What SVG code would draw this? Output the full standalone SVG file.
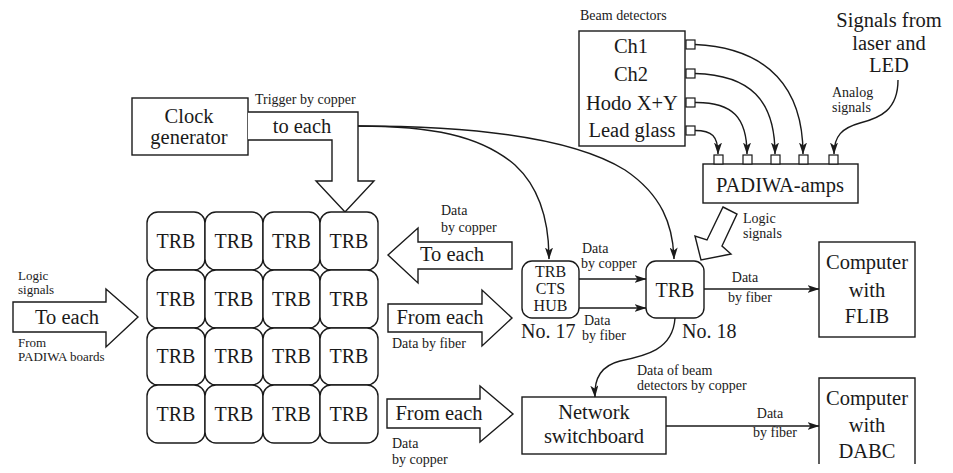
<svg xmlns="http://www.w3.org/2000/svg" width="953" height="473" viewBox="0 0 953 473">
<style>
text{font-family:Liberation Serif,Tinos,Noto Serif,DejaVu Serif,Times New Roman,Times,serif;fill:#1a1a1a}
.b{font-size:20.5px}
.t{font-size:20px}
.s{font-size:14px}
.x{font-size:13px}
.m{font-size:16px}
.c{text-anchor:middle}
.box{fill:#fff;stroke:#1a1a1a;stroke-width:1.4}
.fat{fill:#fff;stroke:#1a1a1a;stroke-width:1.4;stroke-linejoin:miter}
.ln{fill:none;stroke:#1a1a1a;stroke-width:1.4}
.sq{fill:#fff;stroke:#1a1a1a;stroke-width:1.2}
</style>
<defs>
<marker id="ah" viewBox="0 0 12 8" refX="11.5" refY="4" markerWidth="12" markerHeight="8" orient="auto" markerUnits="userSpaceOnUse">
<path d="M0,0 L12,4 L0,8 L3,4 z" fill="#1a1a1a"/>
</marker>
</defs>

<g id="clock">
<rect class="box" x="132" y="98" width="116" height="57"/>
<text class="b c" x="189" y="123">Clock</text>
<text class="b c" x="189" y="144">generator</text>
</g>

<g id="clock-arrow">
<path class="fat" d="M248,112 L358,112 L358,181 L374,181 L345,212 L316,181 L332,181 L332,140 L248,140"/>
<text class="s" x="255" y="104">Trigger by copper</text>
<text class="b c" x="302" y="133">to each</text>
</g>

<g id="trb-grid">
<rect class="box" x="147" y="212" width="58" height="58" rx="11"/>
<rect class="box" x="205" y="212" width="58" height="58" rx="11"/>
<rect class="box" x="263" y="212" width="57" height="58" rx="11"/>
<rect class="box" x="320" y="212" width="58" height="58" rx="11"/>
<rect class="box" x="147" y="270" width="58" height="58" rx="11"/>
<rect class="box" x="205" y="270" width="58" height="58" rx="11"/>
<rect class="box" x="263" y="270" width="57" height="58" rx="11"/>
<rect class="box" x="320" y="270" width="58" height="58" rx="11"/>
<rect class="box" x="147" y="328" width="58" height="57" rx="11"/>
<rect class="box" x="205" y="328" width="58" height="57" rx="11"/>
<rect class="box" x="263" y="328" width="57" height="57" rx="11"/>
<rect class="box" x="320" y="328" width="58" height="57" rx="11"/>
<rect class="box" x="147" y="385" width="58" height="58" rx="11"/>
<rect class="box" x="205" y="385" width="58" height="58" rx="11"/>
<rect class="box" x="263" y="385" width="57" height="58" rx="11"/>
<rect class="box" x="320" y="385" width="58" height="58" rx="11"/>
<text class="t c" x="176" y="248">TRB</text><text class="t c" x="234" y="248">TRB</text><text class="t c" x="291.5" y="248">TRB</text><text class="t c" x="349" y="248">TRB</text>
<text class="t c" x="176" y="306">TRB</text><text class="t c" x="234" y="306">TRB</text><text class="t c" x="291.5" y="306">TRB</text><text class="t c" x="349" y="306">TRB</text>
<text class="t c" x="176" y="363">TRB</text><text class="t c" x="234" y="363">TRB</text><text class="t c" x="291.5" y="363">TRB</text><text class="t c" x="349" y="363">TRB</text>
<text class="t c" x="176" y="421">TRB</text><text class="t c" x="234" y="421">TRB</text><text class="t c" x="291.5" y="421">TRB</text><text class="t c" x="349" y="421">TRB</text>
</g>

<g id="left-arrow">
<polygon class="fat" points="13,302 106,302 106,289 138,317 106,347 106,332 13,332"/>
<text class="b c" x="67" y="324">To each</text>
<text class="x" x="18" y="280">Logic</text>
<text class="x" x="18" y="294">signals</text>
<text class="x" x="18" y="347">From</text>
<text class="x" x="18" y="361">PADIWA boards</text>
</g>

<g id="to-each-arrow">
<polygon class="fat" points="512,242 418,242 418,228 388,255 418,283 418,269 512,269"/>
<text class="b c" x="452" y="261">To each</text>
<text class="s" x="441" y="215">Data</text>
<text class="s" x="441" y="232">by copper</text>
</g>

<g id="from-each-fiber">
<polygon class="fat" points="388,304 482,304 482,290 512,318 482,346 482,332 388,332"/>
<text class="b c" x="440" y="324">From each</text>
<text class="s" x="392" y="348">Data by fiber</text>
</g>

<g id="from-each-copper">
<polygon class="fat" points="387,399 480,399 480,386 513,414 480,442 480,428 387,428"/>
<text class="b c" x="439" y="420">From each</text>
<text class="s" x="392" y="448">Data</text>
<text class="s" x="392" y="464">by copper</text>
</g>

<g id="cts-hub">
<rect class="box" x="522" y="261" width="57" height="57" rx="10"/>
<text class="m c" x="550.5" y="277">TRB</text>
<text class="m c" x="550.5" y="294">CTS</text>
<text class="m c" x="550.5" y="311">HUB</text>
<text class="t" x="521" y="338">No. 17</text>
</g>

<g id="trb18">
<rect class="box" x="646" y="261" width="58" height="57" rx="10"/>
<text class="t c" x="675" y="297">TRB</text>
<text class="t" x="682" y="338">No. 18</text>
</g>

<g id="beam-detectors">
<text class="s" x="580" y="20">Beam detectors</text>
<rect class="box" x="579" y="31" width="106" height="115"/>
<text class="b c" x="631" y="53">Ch1</text>
<text class="b c" x="631" y="81">Ch2</text>
<text class="b c" x="632" y="110">Hodo X+Y</text>
<text class="b c" x="632" y="137">Lead glass</text>
<rect class="sq" x="686" y="40" width="9" height="9"/>
<rect class="sq" x="686" y="69" width="9" height="9"/>
<rect class="sq" x="686" y="98" width="9" height="9"/>
<rect class="sq" x="686" y="126" width="9" height="9"/>
</g>

<g id="padiwa-amps">
<rect class="box" x="703" y="164" width="155" height="39"/>
<text class="b c" x="780" y="192">PADIWA-amps</text>
<rect class="sq" x="714" y="155" width="9" height="9"/>
<rect class="sq" x="743" y="155" width="9" height="9"/>
<rect class="sq" x="771" y="155" width="9" height="9"/>
<rect class="sq" x="799" y="155" width="9" height="9"/>
<rect class="sq" x="829" y="155" width="9" height="9"/>
</g>

<g id="signals-source">
<text class="b c" x="889" y="27">Signals from</text>
<text class="b c" x="889" y="50">laser and</text>
<text class="b c" x="889" y="72">LED</text>
<text class="s" x="832" y="97">Analog</text>
<text class="s" x="832" y="112">signals</text>
</g>

<g id="logic-arrow">
<polygon class="fat" points="723,207 737,214 722,246 731,254 701,260 695,236 707,240"/>
<text class="s" x="743" y="223">Logic</text>
<text class="s" x="743" y="238">signals</text>
</g>

<g id="computer-flib">
<rect class="box" x="819" y="242" width="96" height="95"/>
<text class="b c" x="867" y="269">Computer</text>
<text class="b c" x="867" y="297">with</text>
<text class="b c" x="867" y="323">FLIB</text>
</g>

<g id="network-switchboard">
<rect class="box" x="522" y="397" width="144" height="57"/>
<text class="b c" x="594" y="419">Network</text>
<text class="b c" x="594" y="443">switchboard</text>
</g>

<g id="computer-dabc">
<path class="ln" d="M819,464 L819,378 L915,378 L915,464"/>
<text class="b c" x="867" y="405">Computer</text>
<text class="b c" x="867" y="432">with</text>
<text class="b c" x="867" y="458">DABC</text>
</g>

<g id="connectors">
<path class="ln" marker-end="url(#ah)" d="M358,126 C430,126 480,135 515,165 C540,188 549,220 549,259"/>
<path class="ln" marker-end="url(#ah)" d="M358,126 C450,126 565,133 625,170 C662,195 673,225 674,259"/>
<path class="ln" marker-end="url(#ah)" d="M579,279 L646,279"/>
<path class="ln" marker-end="url(#ah)" d="M579,308 L646,308"/>
<text class="s" x="582" y="253">Data</text>
<text class="s" x="581" y="268">by copper</text>
<text class="s" x="584" y="325">Data</text>
<text class="s" x="582" y="340">by fiber</text>
<path class="ln" marker-end="url(#ah)" d="M704,289 L819,289"/>
<text class="s c" x="745" y="282">Data</text>
<text class="s c" x="750" y="302">by fiber</text>
<path class="ln" marker-end="url(#ah)" d="M675,318 C673,350 645,356 620,361 C600,366 594,380 595,397"/>
<text class="s" x="637" y="375">Data of beam</text>
<text class="s" x="637" y="390">detectors by copper</text>
<path class="ln" marker-end="url(#ah)" d="M666,426 L819,426"/>
<text class="s c" x="770" y="418">Data</text>
<text class="s c" x="775" y="437">by fiber</text>
<path class="ln" marker-end="url(#ah)" d="M695,130.5 C712,130.5 718,136 718,154"/>
<path class="ln" marker-end="url(#ah)" d="M695,102.5 C733,102 747,118 747,154"/>
<path class="ln" marker-end="url(#ah)" d="M695,73.5 C750,75 775,100 775,154"/>
<path class="ln" marker-end="url(#ah)" d="M695,44.5 C770,48 803,90 803,154"/>
<path class="ln" marker-end="url(#ah)" d="M898,80 C898,110 880,118 860,123 C842,128 834,136 834,154"/>
</g>
</svg>
